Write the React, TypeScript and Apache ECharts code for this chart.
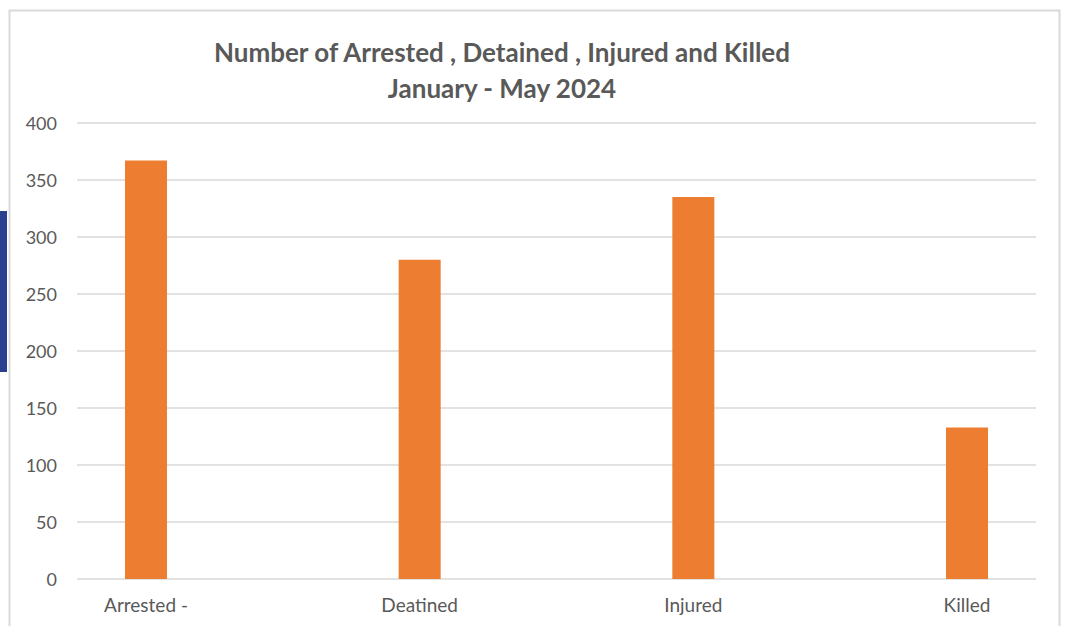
import React, { useEffect, useRef } from "react";
import * as echarts from "echarts";

const categories = ["Arrested -", "Deatined", "Injured", "Killed"];
const values = [367, 280, 335, 133];
const yMin = 0;
const yMax = 400;
const yInterval = 50;
const titleLines = ["Number of Arrested , Detained , Injured and Killed", "January - May 2024"];

export default function App() {
  const ref = useRef<HTMLDivElement>(null);
  useEffect(() => {
    if (!ref.current) return;
    const chart = echarts.init(ref.current, null, { renderer: "svg" });
    const font = "Lato, 'Open Sans', sans-serif";
    chart.setOption({
      animation: false,
      backgroundColor: "#ffffff",
      title: {
        text: titleLines.join("\n"),
        left: 497,
        top: 29,
        textAlign: "center",
        textStyle: {
          fontFamily: font,
          fontWeight: "bold",
          fontSize: 26,
          color: "#595959",
          lineHeight: 36,
        },
      },
      graphic: [
        {
          type: "rect",
          shape: { x: 9.5, y: 10.5, width: 1050, height: 640 },
          style: { fill: "none", stroke: "#d9d9d9", lineWidth: 2 },
          z: 0,
        },
        {
          type: "rect",
          shape: { x: 0, y: 211, width: 7, height: 161 },
          style: { fill: "#2a3f8e" },
        },
      ],
      grid: [
        { left: 77, right: 31, top: 123, bottom: 47 },
        { left: 146, right: 100, top: 123, bottom: 47 },
      ],
      xAxis: [
        {
          gridIndex: 0,
          type: "category",
          data: categories,
          show: false,
        },
        {
          gridIndex: 1,
          type: "category",
          data: categories,
          boundaryGap: false,
          axisLine: { show: false },
          axisTick: { show: false },
          axisLabel: {
            margin: 16,
            fontFamily: font,
            fontSize: 19,
            color: "#595959",
          },
        },
      ],
      yAxis: [
        {
          gridIndex: 0,
          type: "value",
          min: yMin,
          max: yMax,
          interval: yInterval,
          axisLine: { show: false },
          axisTick: { show: false },
          axisLabel: {
            margin: 20,
            fontFamily: font,
            fontSize: 18,
            color: "#595959",
          },
          splitLine: { lineStyle: { color: "#d9d9d9", width: 1.5 } },
        },
        {
          gridIndex: 1,
          type: "value",
          min: yMin,
          max: yMax,
          interval: yInterval,
          show: false,
          splitLine: { show: false },
        },
      ],
      series: [
        {
          type: "bar",
          xAxisIndex: 1,
          yAxisIndex: 1,
          data: values,
          barWidth: 42,
          itemStyle: { color: "#ed7d31" },
        },
      ],
    });
    return () => chart.dispose();
  }, []);
  return <div ref={ref} style={{ width: 1067, height: 626, position: "absolute", left: 0, top: 0 }} />;
}
